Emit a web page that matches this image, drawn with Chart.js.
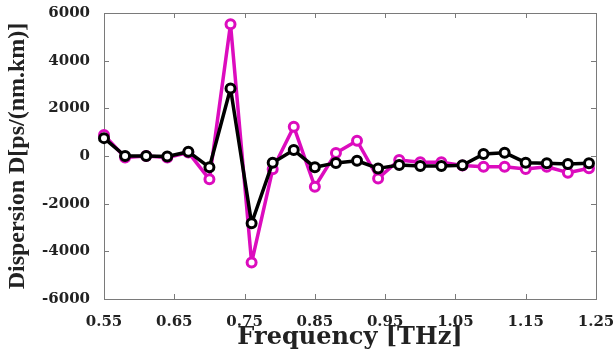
<!DOCTYPE html>
<html>
<head>
<meta charset="utf-8">
<script src="https://cdn.jsdelivr.net/npm/chart.js@4/dist/chart.umd.min.js"></script>
<style>
  body { margin: 0; background: #fff; }
  #dispersion { display: block; }
</style>
</head>
<body>
<canvas id="dispersion" width="614" height="359"></canvas>
<script>
// frequency points (THz)
var freqs = [0.55, 0.58, 0.61, 0.64, 0.67, 0.70, 0.73, 0.76, 0.79, 0.82, 0.85, 0.88,
             0.91, 0.94, 0.97, 1.00, 1.03, 1.06, 1.09, 1.12, 1.15, 1.18, 1.21, 1.24]
// dispersion values
var magentaVals = [880, -60, 0, -60, 150, -980, 5530, -4470, -560, 1230, -1290, 130,
                   640, -940, -170, -265, -265, -400, -450, -450, -545, -450, -700, -515]
var blackVals = [750, 0, 0, -20, 180, -475, 2835, -2820, -280, 250, -475, -290,
                 -200, -520, -380, -420, -420, -390, 80, 140, -280, -305, -335, -305]
var xTicks = [0.55, 0.65, 0.75, 0.85, 0.95, 1.05, 1.15, 1.25]
var yTicks = [-6000, -4000, -2000, 0, 2000, 4000, 6000]

function pts(vals) {
  return freqs.map(function (f, i) { return { x: f, y: vals[i] } })
}

// box round the plot with ticks pointing inward (matlab style)
var boxPlugin = {
  id: 'box',
  beforeDatasetsDraw: function (chart) {
    var c = chart.ctx, a = chart.chartArea
    var xs = chart.scales.x, ys = chart.scales.y
    c.save()
    c.strokeStyle = '#7a7a7a'
    c.lineWidth = 1
    c.strokeRect(a.left + 0.5, a.top + 0.5, a.right - a.left, a.bottom - a.top)
    c.beginPath()
    xTicks.forEach(function (v) {
      var px = Math.round(xs.getPixelForValue(v)) + 0.5
      c.moveTo(px, a.bottom); c.lineTo(px, a.bottom - 5)
      c.moveTo(px, a.top); c.lineTo(px, a.top + 5)
    })
    yTicks.forEach(function (v) {
      var py = Math.round(ys.getPixelForValue(v)) + 0.5
      c.moveTo(a.left, py); c.lineTo(a.left + 5, py)
      c.moveTo(a.right, py); c.lineTo(a.right - 5, py)
    })
    c.stroke()
    c.restore()
  }
}

var ctx = document.getElementById('dispersion').getContext('2d')

new Chart(ctx, {
  type: 'line',
  data: {
    datasets: [
      {
        data: pts(magentaVals),
        borderColor: '#dc0cbe',
        pointBorderColor: '#dc0cbe',
        pointBackgroundColor: '#fff',
        borderWidth: 3.5,
        borderJoinStyle: 'round',
        pointRadius: 4.5,
        pointBorderWidth: 3,
        clip: false,
        order: 1,
      },
      {
        data: pts(blackVals),
        borderColor: '#000',
        pointBorderColor: '#000',
        pointBackgroundColor: '#fff',
        borderWidth: 3.5,
        borderJoinStyle: 'round',
        pointRadius: 4.5,
        pointBorderWidth: 3,
        clip: false,
        order: 0,
      },
    ],
  },
  options: {
    responsive: false,
    animation: false,
    layout: { padding: { top: 13, right: 18, left: 0, bottom: 0 } },
    plugins: { legend: { display: false }, tooltip: { enabled: false } },
    scales: {
      x: {
        type: 'linear',
        min: 0.55,
        max: 1.25,
        grid: { display: false },
        border: { display: false },
        afterBuildTicks: function (s) { s.ticks = xTicks.map(function (v) { return { value: v } }) },
        afterFit: function (s) { s.height = 60; s.paddingLeft = 0; s.paddingRight = 0 },
        ticks: {
          maxRotation: 0,
          padding: 6,
          color: '#222',
          font: { family: 'DejaVu Serif', weight: 'bold', size: 15 },
          callback: function (v) { return v.toFixed(2) },
        },
        title: {
          display: true,
          text: 'Frequency [THz]',
          color: '#222',
          padding: { bottom: 7 },
          font: { family: 'DejaVu Serif', weight: 'bold', size: 24 },
        },
      },
      y: {
        min: -6000,
        max: 6000,
        grid: { display: false },
        border: { display: false },
        afterBuildTicks: function (s) { s.ticks = yTicks.map(function (v) { return { value: v } }) },
        afterFit: function (s) { s.width = 104; s.paddingTop = 0; s.paddingBottom = 0 },
        ticks: {
          padding: 6,
          color: '#222',
          font: { family: 'DejaVu Serif', weight: 'bold', size: 15 },
          callback: function (v) { return String(v) },
        },
        title: {
          display: true,
          text: 'Dispersion D[ps/(nm.km)]',
          color: '#222',
          padding: { top: 3 },
          font: { family: 'Liberation Serif', weight: 'bold', size: 24 },
        },
      },
    },
  },
  plugins: [boxPlugin],
})
</script>
</body>
</html>
